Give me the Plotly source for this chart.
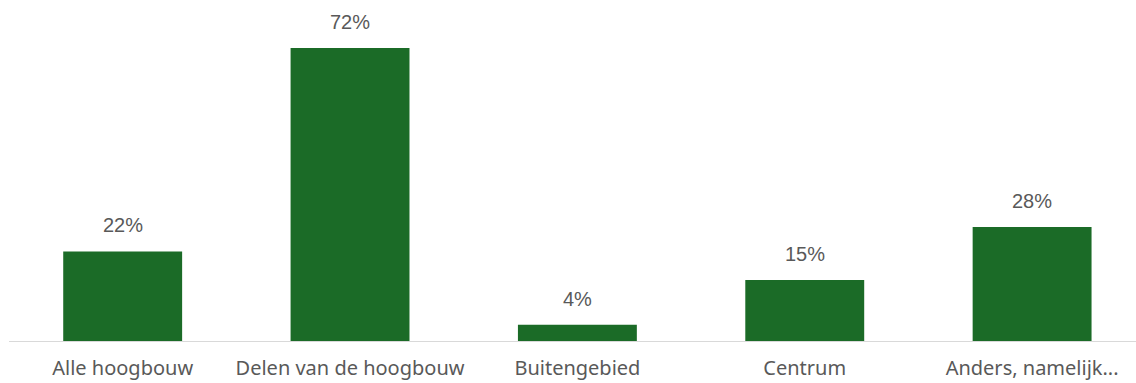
import plotly.graph_objects as go

categories = ["Alle hoogbouw", "Delen van de hoogbouw", "Buitengebied", "Centrum", "Anders, namelijk..."]
values = [22, 72, 4, 15, 28]

BAR_COLOR = "#1B6B27"
TEXT_COLOR = "#595959"

fig = go.Figure(
    go.Bar(
        x=categories,
        y=values,
        marker=dict(color=BAR_COLOR, line=dict(width=0)),
        hoverinfo="skip",
    )
)

# value labels above each bar
for cat, v in zip(categories, values):
    fig.add_annotation(
        x=cat, y=v, text=f"{v}%", showarrow=False,
        yanchor="bottom", yshift=13,
        font=dict(family="Liberation Sans, Arial", size=20, color=TEXT_COLOR),
    )

fig.update_layout(
    width=1136, height=383,
    margin=dict(l=9, r=0, t=0, b=42),
    paper_bgcolor="white", plot_bgcolor="white",
    bargap=0.477,
    showlegend=False,
    xaxis=dict(
        range=[-0.5, 4.457],
        automargin=False,
        showline=True, linecolor="#D9D9D9", linewidth=1.3,
        showgrid=False, ticks="",
        ticklabelstandoff=9,
        tickfont=dict(family="Noto Sans", size=20, color=TEXT_COLOR),
    ),
    yaxis=dict(
        range=[0, 83.8], visible=False, showgrid=False, zeroline=False,
    ),
)

fig.write_html("out.html")
